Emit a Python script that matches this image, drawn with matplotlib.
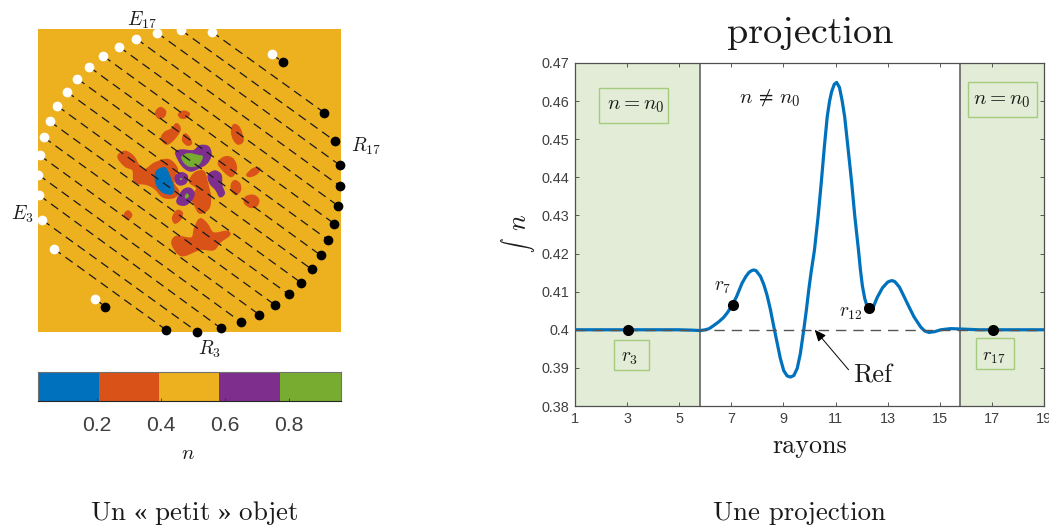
import numpy as np
import matplotlib
matplotlib.use("Agg")
import matplotlib.pyplot as plt
from matplotlib.path import Path
from matplotlib.patches import PathPatch, Rectangle

plt.rcParams['mathtext.fontset'] = 'cm'
plt.rcParams['axes.unicode_minus'] = False
W, H = 1049, 526
SERIF = ['cmr10', 'Liberation Serif']
SANS = 'Liberation Sans'
C_BLUE, C_RED, C_YEL, C_PUR, C_GRN = '#0072BD', '#D95319', '#EDB120', '#7E2F8E', '#77AC30'

# ---------- data ----------
ray_start_x = [94.7, 53.7, 42.3, 39.3, 38.3, 39.7, 43.7, 49.7, 57.3, 66.7, 77.3, 89.3, 103.3, 119, 136.3, 157, 181, 211.7, 271.7]
ray_start_y = [298.7, 248.7, 220, 195.3, 174.7, 155.3, 137.3, 121.3, 106, 91.7, 78.7, 67, 56, 46.7, 38.7, 32.7, 30, 31.7, 54.3]
ray_end_x = [105.3, 166.3, 197, 221, 241.3, 259.3, 275, 288.7, 301, 311.7, 320.7, 328.3, 334.3, 338.3, 340.3, 340, 335.3, 324.3, 283.3]
ray_end_y = [306.7, 330, 331.7, 328.3, 322.3, 314.7, 305, 294.3, 282.7, 269.3, 255.3, 240, 223.7, 206, 186.3, 165.3, 141.3, 112.7, 62.3]

red_blobs = [
    [(160,108),(165,111),(164,116),(159,118),(156,113)],
    [(179,114),(184,111.5),(189,114),(185,117.7),(180.7,117.3)],
    [(176.7,124),(179.7,130),(173.3,139.3),(166.7,143.7),(161.7,138.3),(165,132.7),(171.7,129.3)],
    [(185,134.3),(189.3,138.3),(191,143.3),(187.3,144.7),(183,140)],
    [(234,125),(239.3,128.3),(242.7,140),(238.3,143.7),(234,139.3),(232,131.7)],
    [(118.3,156.7),(125,151.7),(133.3,156.7),(138.3,165),(145,170),(155,163.3),(168.3,160),(176.7,168.3),(175,175),
     (173.3,183.3),(178.3,191.7),(173.3,197.3),(163.3,196.7),(155,188.3),(146.7,184),(135,181.7),(133.3,170),(125,165.7)],
    [(195,173.3),(203.3,171.7),(206.7,181.7),(210,196.7),(208.3,208.3),(200,212.7),(195,205),(191.7,196.7),(197.3,188.3),(190,181.7)],
    [(225,157.3),(232.7,159.3),(236,168.3),(231.7,176),(225,171.7),(218.7,163.3)],
    [(247.3,174.7),(253.3,169),(259.3,168.7),(256.7,173.3),(250.7,176)],
    [(235,181),(239.3,184),(240,190),(236,194),(232,190),(232,184)],
    [(246,197.3),(253.3,195.7),(258.3,200),(256,206),(250,206.7),(245,202.7)],
    [(128,211.3),(131.3,215),(128,219),(124.7,215)],
    [(178.3,210.7),(182,213.3),(180,219.3),(175,222.7),(173,218.3),(175,213.3)],
    [(200,219.3),(206.7,224),(213.3,233.3),(226.7,231.7),(229,235),(220,241.7),(213.3,249.3),(200,249),(185,255),
     (178.3,253.3),(172.3,243.3),(176.7,236.7),(191.7,238.3),(195,228.3)],
]
blue_blobs = [[(156.7,170.7),(165,167.7),(169.3,175),(174,188.3),(171.7,194),(163.3,192.7),(157.3,186.7),(155,178.3)]]
purple_blobs = [
    [(175.7,152.7),(181.7,150),(193.3,150.7),(200,145.7),(208.3,146.7),(211,155),(206.7,163.3),(198.3,168.3),(190,171),(181.7,165)],
    [(175.7,176),(181.7,172.7),(187.3,176),(186,182.7),(180,185),(175.7,181.7)],
    [(177.3,199.3),(183.3,190),(190,188.3),(194,193.3),(191.7,200),(185,205),(178.3,204)],
    [(208.3,175),(215,171),(221,175),(221.7,185),(224.3,193.3),(220,196.7),(216,190),(210,183.3)],
]
green_blobs = [
    [(181.7,156.7),(188.3,153.3),(197.3,155),(202.7,156.7),(198.3,165),(190,166.7),(184,162.7)],
    [(181,178),(182,179),(181,180),(180,179)],
    [(187,193.7),(188.7,196),(186.3,198.3),(185,196.3)],
]

cbar_edges = [0.0156, 0.2045, 0.393, 0.582, 0.771, 0.96]
cbar_ticks = [0.2, 0.4, 0.6, 0.8]
cbar_tick_labels = ['0.2', '0.4', '0.6', '0.8']

proj_x = [1, 2, 3, 4, 5, 5.5, 5.81, 6.0, 6.15, 6.32, 6.5, 6.7, 6.85, 7.03, 7.2, 7.41, 7.55, 7.67, 7.77, 7.86, 7.95, 8.12,
          8.25, 8.37, 8.5, 8.63, 8.76, 8.88, 9.01, 9.14, 9.27, 9.4, 9.53, 9.65, 9.78, 9.88, 9.97, 10.06, 10.19, 10.33, 10.45,
          10.57, 10.68, 10.77, 10.85, 10.95, 11.04, 11.15, 11.25, 11.35, 11.45, 11.54, 11.62, 11.74, 11.88, 11.95, 12.03, 12.12, 12.2, 12.28, 12.35, 12.45, 12.6,
          12.8, 13.0, 13.1, 13.18, 13.28, 13.45, 13.63, 13.82, 14.01, 14.27, 14.42, 14.58, 14.8, 15.04, 15.42, 15.8, 16.5, 17.05, 18, 19]
proj_y = [.4, .4, .4, .4, .4, .3999, .3998, .4, .4003, .4011, .402, .4032, .4045, .4064, .4087, .4122, .4139, .415, .4155, .4157, .4155, .414,
          .4118, .4091, .4053, .4008, .3965, .3925, .3893, .3879, .3876, .388, .3899, .3938, .4, .4052, .4104, .4150, .4209, .4297, .4385,
          .4480, .4559, .4600, .4625, .4644, .4649, .4636, .4602, .4559, .4495, .4437, .4385, .4297, .4209, .4160, .4115, .4082, .4064, .4056, .4053, .4060, .4085,
          .4110, .4125, .4128, .4129, .4126, .4112, .4087, .4060, .4034, .4007, .3997, .3993, .3995, .4, .4003, .4002, .4, .4, .4, .4]
ref_value = 0.4
band_left = (1, 5.81)
band_right = (15.78, 19)
ray_dots_x = [3.05, 7.05, 12.28, 17.05]
ray_dots_y = [0.4, 0.4065, 0.4056, 0.4]
x_ticks = [1, 3, 5, 7, 9, 11, 13, 15, 17, 19]
y_ticks = [.38, .39, .40, .41, .42, .43, .44, .45, .46, .47]
y_tick_labels = ['0.38', '0.39', '0.4', '0.41', '0.42', '0.43', '0.44', '0.45', '0.46', '0.47']


def axes_px(fig, x0, y0, x1, y1):
    return fig.add_axes([x0 / W, 1 - y1 / H, (x1 - x0) / W, (y1 - y0) / H])


def smooth_closed(points):
    p = np.asarray(points, float)
    n = len(p)
    verts, codes = [p[0]], [Path.MOVETO]
    for i in range(n):
        p0, p1, p2, p3 = p[i - 1], p[i], p[(i + 1) % n], p[(i + 2) % n]
        verts += [p1 + (p2 - p0) / 6, p2 - (p3 - p1) / 6, p2]
        codes += [Path.CURVE4] * 3
    return Path(verts, codes)


def label(fig, x, y, s, size, color='#1a1a1a', **kw):
    fig.text(x / W, 1 - y / H, s, fontsize=size, color=color, ha='center', va='center', **kw)


fig = plt.figure(figsize=(W / 100, H / 100), dpi=100, facecolor='white')

# ---------- map ----------
ax = axes_px(fig, 38, 29, 340.5, 332)
ax.set_xlim(38, 340.5)
ax.set_ylim(332, 29)
ax.set_facecolor(C_YEL)
for s in ax.spines.values():
    s.set_visible(False)
ax.set_xticks([])
ax.set_yticks([])
for blobs, col, edge in [(red_blobs, C_RED, 1.6), (blue_blobs, C_BLUE, 0.6), (purple_blobs, C_PUR, 1.0), (green_blobs, C_GRN, 0.4)]:
    for b in blobs:
        ax.add_patch(PathPatch(smooth_closed(b), facecolor=col, edgecolor=col, lw=edge))
for xs, xe, ys, ye in zip(ray_start_x, ray_end_x, ray_start_y, ray_end_y):
    ax.plot([xs, xe], [ys, ye], color='#1a1a1a', lw=0.9, dashes=(7.1, 4.5), clip_on=False, zorder=3)
ax.plot(ray_start_x, ray_start_y, 'o', color='white', ms=7, mew=0, clip_on=False, zorder=4)
ax.plot(ray_end_x, ray_end_y, 'o', color='black', ms=7, mew=0, clip_on=False, zorder=4)

# ---------- colour bar ----------
cax = axes_px(fig, 38, 372, 340.5, 401)
cax.barh([0.5] * 5, np.diff(cbar_edges), left=cbar_edges[:-1], height=1,
         color=[C_BLUE, C_RED, C_YEL, C_PUR, C_GRN], linewidth=0)
cax.set_xlim(cbar_edges[0], cbar_edges[-1])
cax.set_ylim(0, 1)
cax.set_yticks([])
cax.set_xticks(cbar_ticks)
cax.set_xticklabels(cbar_tick_labels, fontfamily=SANS, fontsize=15.2, color='#404040')
cax.tick_params(axis='x', direction='in', length=2.5, width=0.5, pad=10.5, color='#262626')
for n, s in cax.spines.items():
    s.set_linewidth(0.8)
    s.set_color('#262626' if n == 'bottom' else '#707070')

label(fig, 188, 453, r'$n$', 15)
label(fig, 194, 513, r'$\mathrm{Un\ }$«$\mathrm{\ petit\ }$»$\mathrm{\ objet}$', 19.4, family='Liberation Serif')
label(fig, 142, 20, r'$E_{17}$', 14)
label(fig, 366, 146, r'$R_{17}$', 14)
label(fig, 22, 214, r'$E_{3}$', 14)
label(fig, 210, 349, r'$R_{3}$', 14)

# ---------- projection ----------
pax = axes_px(fig, 575, 63, 1044, 406)
pax.set_xlim(1, 19)
pax.set_ylim(0.38, 0.47)
pax.axvspan(*band_left, facecolor='#E2ECD6', edgecolor='none', zorder=0)
pax.axvspan(*band_right, facecolor='#E2ECD6', edgecolor='none', zorder=0)
for xv in (band_left[0], band_left[1], band_right[0]):
    pax.axvline(xv, color='#6e6e6e', lw=1.3, zorder=1)
for x0, y0, w, h in [(1.92, .4542, 2.66, .0092), (16.07, .4559, 2.66, .0092), (2.5, .3894, 1.35, .0079), (16.4, .3897, 1.45, .0081)]:
    pax.add_patch(Rectangle((x0, y0), w, h, facecolor='none', edgecolor='#A5CC7E', lw=1.0, zorder=1.5))
pax.plot(proj_x, proj_y, color=C_BLUE, lw=2.3, solid_joinstyle='round', zorder=2)
pax.axhline(ref_value, color='#555555', lw=1.0, dashes=(7.5, 5), zorder=3)
pax.plot(ray_dots_x, ray_dots_y, 'o', color='black', ms=8, mew=0, zorder=4)
pax.set_xticks(x_ticks)
pax.set_xticklabels([str(v) for v in x_ticks], fontfamily=SANS, fontsize=10.4, color='#404040')
pax.set_yticks(y_ticks)
pax.set_yticklabels(y_tick_labels, fontfamily=SANS, fontsize=10.4, color='#404040')
pax.tick_params(direction='in', length=3, width=0.6, top=True, right=True, color='#404040', pad=4)
for s in pax.spines.values():
    s.set_color('#505050')
    s.set_linewidth(0.9)
pax.annotate('', xy=(10.2, 0.4), xytext=(11.5, 0.3895),
             arrowprops=dict(arrowstyle='-|>,head_length=0.7,head_width=0.3', color='black', lw=0.7, shrinkA=0, shrinkB=0))

label(fig, 873, 376, 'Ref', 18.9, family=SERIF)
label(fig, 810, 33, 'projection', 27.5, family=SERIF)
label(fig, 810, 446, 'rayons', 18.8, family=SERIF)
label(fig, 799, 513, 'Une projection', 19.3, family=SERIF)
label(fig, 518, 245, r'$\int$', 10.5, rotation=90)
label(fig, 519.5, 222, r'$n$', 19, rotation=90)
label(fig, 636, 105, r'$n = n_0$', 15)
label(fig, 1002, 100, r'$n = n_0$', 15)
label(fig, 770, 98, r'$n\, \neq\, n_0$', 15)
label(fig, 630, 357, r'$r_3$', 14)
label(fig, 994, 356, r'$r_{17}$', 13.5)
label(fig, 723, 287, r'$r_7$', 14)
label(fig, 851, 312, r'$r_{12}$', 14)

fig.savefig('out.png', dpi=100, facecolor='white')
